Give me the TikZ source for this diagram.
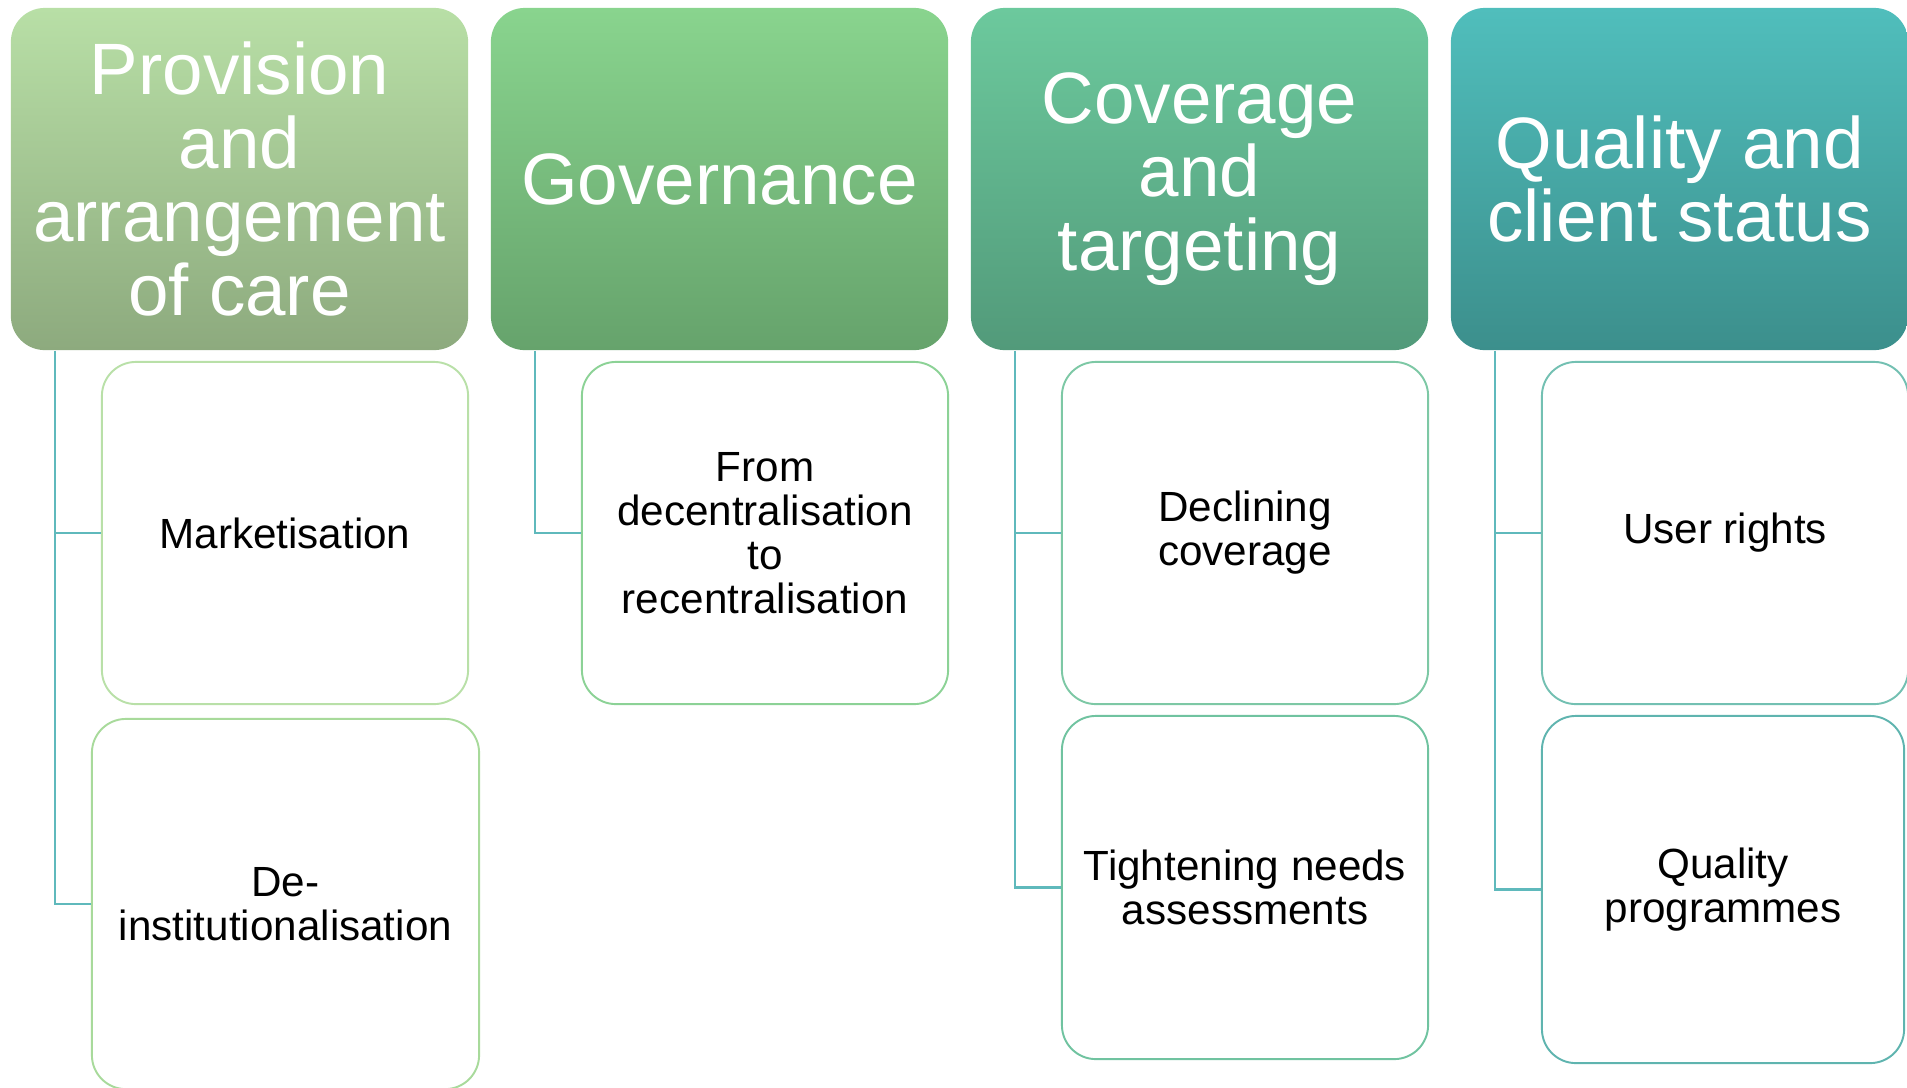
\documentclass[tikz,border=0pt]{standalone}
\usepackage{fontspec}
\setmainfont{Liberation Sans}
\usetikzlibrary{calc, positioning}
\definecolor{careTop}{RGB}{184,223,166}
\definecolor{careBot}{RGB}{141,170,126}
\definecolor{govTop}{RGB}{137,212,142}
\definecolor{govBot}{RGB}{102,163,108}
\definecolor{covTop}{RGB}{108,201,157}
\definecolor{covBot}{RGB}{82,154,122}
\definecolor{qualTop}{RGB}{80,190,188}
\definecolor{qualBot}{RGB}{60,143,140}
\definecolor{careLine}{RGB}{185,224,168}
\definecolor{careLineB}{RGB}{168,218,155}
\definecolor{govLine}{RGB}{140,210,150}
\definecolor{covLine}{RGB}{125,200,165}
\definecolor{covLineB}{RGB}{112,195,160}
\definecolor{qualLine}{RGB}{115,192,178}
\definecolor{qualLineB}{RGB}{95,180,175}
\definecolor{branchteal}{RGB}{95,185,188}
\tikzset{headbox/.style={rounded corners=0.34cm, minimum width=4.57cm, minimum height=3.42cm, inner sep=0pt, text=white, align=center, font=\fontsize{20.7}{20.9}\selectfont}}
\tikzset{itembox/.style={draw, rounded corners=0.34cm, minimum width=3.66cm, minimum height=3.42cm, inner sep=0pt, fill=white, line width=0.55pt, align=center, font=\fontsize{12}{12.5}\selectfont}}
\tikzset{branch/.style={draw=branchteal, line width=0.6pt}}

\begin{document}
\begin{tikzpicture}[x=0.01cm, y=-0.01cm]
\useasboundingbox (0,0) rectangle (1907,1087);

% column headings
\node[headbox, top color=careTop, bottom color=careBot] (H1) at (239.5,179) {Provision\\and\\arrangement\\of care};
\node[headbox, top color=govTop,  bottom color=govBot]  (H2) at (719.5,179) {Governance};
\node[headbox, top color=covTop,  bottom color=covBot]  (H3) at (1199.5,179) {Coverage\\and\\targeting};
\node[headbox, top color=qualTop, bottom color=qualBot] (H4) at (1679.5,179) {Quality and\\client status};

% items under each heading
\node[itembox, draw=careLine] (C11) at (285,533) {Marketisation};
\node[itembox, draw=careLineB, minimum width=3.87cm, minimum height=3.70cm] (C12) at (285.5,904) {De-\\institutionalisation};
\node[itembox, draw=govLine] (C21) at (765,533) {From\\decentralisation\\to\\recentralisation};
\node[itembox, draw=covLine] (C31) at (1245,533) {Declining\\coverage};
\node[itembox, draw=covLineB, minimum height=3.43cm] (C32) at (1245,887.5) {Tightening needs\\assessments};
\node[itembox, draw=qualLine] (C41) at (1725,533) {User rights};
\node[itembox, draw=qualLineB, minimum width=3.62cm, minimum height=3.47cm] (C42) at (1723,889.5) {Quality\\programmes};

% branches
\draw[branch] ($(H1.south west)+(45,0)$) |- (C11.west);
\draw[branch] ($(H1.south west)+(45,0)$) |- (C12.west);
\draw[branch] ($(H2.south west)+(45,0)$) |- (C21.west);
\draw[branch] ($(H3.south west)+(45,0)$) |- (C31.west);
\draw[branch] ($(H3.south west)+(45,0)$) |- (C32.west);
\draw[branch] ($(H4.south west)+(45,0)$) |- (C41.west);
\draw[branch] ($(H4.south west)+(45,0)$) |- (C42.west);
\end{tikzpicture}
\end{document}
